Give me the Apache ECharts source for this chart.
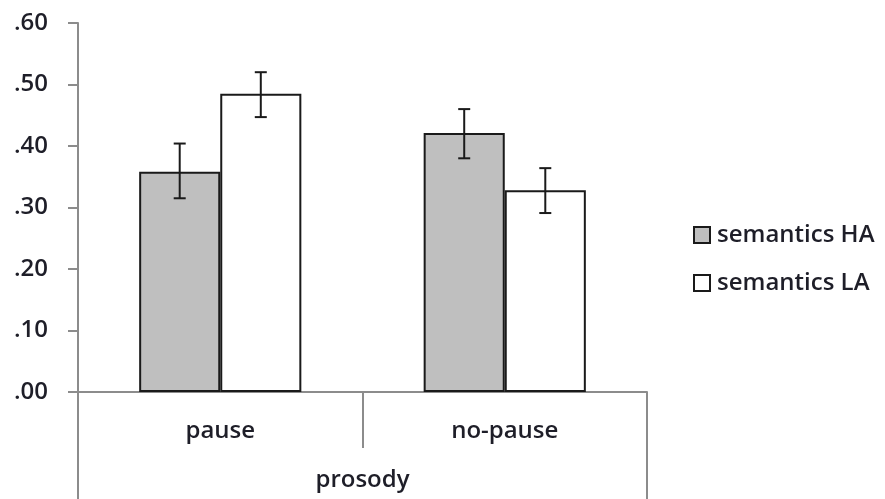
<!DOCTYPE html>
<html>
<head>
<meta charset="utf-8">
<script src="https://cdn.jsdelivr.net/npm/echarts@6/dist/echarts.min.js"></script>
<style>html,body{margin:0;padding:0;background:#fff}#c{width:885px;height:499px}</style>
</head>
<body>
<div id="c"></div>
<script>
var categories = ['pause', 'no-pause'];
var groupLabel = ['prosody'];
var seriesNames = ['semantics HA', 'semantics LA'];
var haMeans = [0.358, 0.421];
var laMeans = [0.485, 0.328];
var haErrLow = [0.315, 0.380];
var haErrHigh = [0.404, 0.460];
var laErrLow = [0.447, 0.291];
var laErrHigh = [0.520, 0.364];

var FONT = 'Open Sans';
var TXT = '#1e1e28';
var WEIGHT = 600;
var GAP = 0.43;

function errData(lo, hi, s) {
  return lo.map(function (v, i) { return [i, v, hi[i], s]; });
}

function renderErr(params, api) {
  var ci = api.value(0), lo = api.value(1), hi = api.value(2), s = api.value(3);
  var catW = api.size([1, 0])[0];
  var bw = catW * (1 - GAP) / 2;
  var cx = api.coord([ci, 0])[0] + (s === 0 ? -0.5 : 0.5) * bw;
  var yl = api.coord([ci, lo])[1];
  var yh = api.coord([ci, hi])[1];
  var cap = 6;
  var st = { stroke: '#1a1a1a', lineWidth: 2 };
  return {
    type: 'group',
    children: [
      { type: 'line', shape: { x1: cx, y1: yl, x2: cx, y2: yh }, style: st },
      { type: 'line', shape: { x1: cx - cap, y1: yh, x2: cx + cap, y2: yh }, style: st },
      { type: 'line', shape: { x1: cx - cap, y1: yl, x2: cx + cap, y2: yl }, style: st }
    ]
  };
}

var chart = echarts.init(document.getElementById('c'));
chart.setOption({
  backgroundColor: '#fff',
  animation: false,
  grid: { left: 78, right: 238, top: 23, bottom: 107, outerBoundsMode: 'none', containLabel: false },
  legend: {
    orient: 'vertical',
    left: 688, top: 218,
    icon: 'rect',
    itemWidth: 16, itemHeight: 16, itemGap: 24,
    data: seriesNames,
    textStyle: { fontFamily: FONT, fontSize: 24, fontWeight: WEIGHT, color: TXT, padding: [0, 0, 0, 2] }
  },
  xAxis: [
    {
      type: 'category', data: categories, position: 'bottom',
      axisLine: { show: true, lineStyle: { color: '#8c8c8c', width: 2 } },
      axisTick: { show: true, interval: 0, length: 56, lineStyle: { color: '#8c8c8c', width: 2 } },
      axisLabel: { margin: 27, fontFamily: FONT, fontSize: 24, fontWeight: WEIGHT, color: TXT }
    },
    {
      type: 'category', data: groupLabel, position: 'bottom',
      axisLine: { show: false },
      axisTick: { show: true, interval: 0, length: 107, lineStyle: { color: '#8c8c8c', width: 2 } },
      axisLabel: { margin: 76, fontFamily: FONT, fontSize: 24, fontWeight: WEIGHT, color: TXT }
    }
  ],
  yAxis: {
    type: 'value', min: 0, max: 0.6, interval: 0.1,
    axisLine: { show: true, lineStyle: { color: '#8c8c8c', width: 2 } },
    axisTick: { show: true, length: 10, lineStyle: { color: '#8c8c8c', width: 2 } },
    splitLine: { show: false },
    axisLabel: {
      margin: 30, fontFamily: FONT, fontSize: 24, fontWeight: WEIGHT, color: TXT,
      formatter: function (v) { return v.toFixed(2).slice(1); }
    }
  },
  series: [
    {
      name: seriesNames[0], type: 'bar', data: haMeans, barGap: '0%', barCategoryGap: (GAP * 100) + '%',
      itemStyle: { color: '#bfbfbf', borderColor: '#1a1a1a', borderWidth: 2 }
    },
    {
      name: seriesNames[1], type: 'bar', data: laMeans, barGap: '0%', barCategoryGap: (GAP * 100) + '%',
      itemStyle: { color: '#ffffff', borderColor: '#1a1a1a', borderWidth: 2 }
    },
    { type: 'custom', renderItem: renderErr, data: errData(haErrLow, haErrHigh, 0), z: 10, silent: true },
    { type: 'custom', renderItem: renderErr, data: errData(laErrLow, laErrHigh, 1), z: 10, silent: true }
  ]
});
</script>
</body>
</html>
